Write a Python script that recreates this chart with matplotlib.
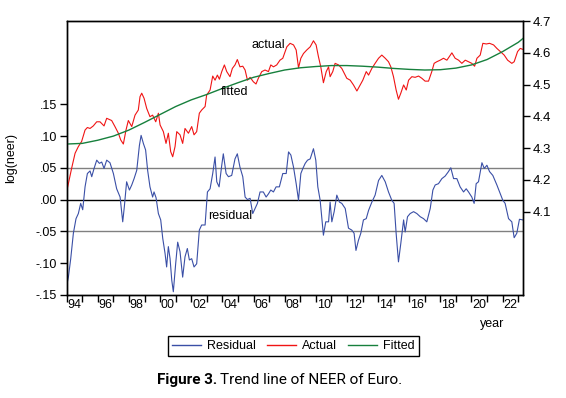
import numpy as np
import matplotlib.pyplot as plt
from matplotlib.lines import Line2D

plt.rcParams['font.family'] = ['Liberation Sans', 'DejaVu Sans']

# Actual log(neer) (right axis)
actual_year = [1994.06, 1994.32, 1994.54, 1994.75, 1994.96, 1995.18, 1995.33, 1995.50, 1995.71, 1995.93,
               1996.14, 1996.40, 1996.57, 1996.89, 1997.10, 1997.32, 1997.47, 1997.64, 1997.81, 1997.96,
               1998.18, 1998.39, 1998.60, 1998.71, 1998.82, 1998.97, 1999.14, 1999.35, 1999.52, 1999.72,
               1999.89, 2000.00, 2000.21, 2000.38, 2000.53, 2000.68, 2000.81, 2000.96, 2001.07, 2001.28,
               2001.45, 2001.60, 2001.82, 2002.03, 2002.18, 2002.35, 2002.52, 2002.67, 2002.89, 2002.99,
               2003.21, 2003.38, 2003.53, 2003.68, 2003.81, 2003.96, 2004.13, 2004.28, 2004.49, 2004.64,
               2004.81, 2004.96, 2005.13, 2005.31, 2005.46, 2005.61, 2005.78, 2005.99, 2006.16, 2006.31,
               2006.53, 2006.74, 2006.96, 2007.11, 2007.28, 2007.49, 2007.70, 2007.88, 2008.14, 2008.35,
               2008.57, 2008.74, 2008.89, 2009.04, 2009.21, 2009.42, 2009.64, 2009.85, 2010.02, 2010.17,
               2010.32, 2010.49, 2010.67, 2010.82, 2010.92, 2011.09, 2011.24, 2011.46, 2011.67, 2011.99,
               2012.21, 2012.42, 2012.64, 2012.85, 2013.02, 2013.24, 2013.39, 2013.60, 2013.81, 2014.03,
               2014.24, 2014.46, 2014.67, 2014.82, 2014.99, 2015.16, 2015.31, 2015.46, 2015.64, 2015.81,
               2015.96, 2016.17, 2016.38, 2016.60, 2016.81, 2017.02, 2017.24, 2017.45, 2017.60, 2017.77,
               2017.99, 2018.20, 2018.42, 2018.74, 2018.95, 2019.17, 2019.38, 2019.60, 2019.81, 2020.02,
               2020.20, 2020.35, 2020.56, 2020.73, 2020.95, 2021.16, 2021.42, 2021.63, 2021.85, 2022.10,
               2022.32, 2022.59, 2022.74, 2022.96, 2023.13, 2023.30]
actual = [4.177, 4.237, 4.284, 4.305, 4.321, 4.357, 4.365, 4.362, 4.370, 4.383,
          4.383, 4.370, 4.394, 4.387, 4.368, 4.347, 4.326, 4.313, 4.357, 4.387,
          4.368, 4.404, 4.420, 4.462, 4.473, 4.457, 4.425, 4.399, 4.404, 4.383,
          4.410, 4.373, 4.352, 4.315, 4.347, 4.289, 4.273, 4.305, 4.352, 4.342,
          4.315, 4.362, 4.347, 4.368, 4.342, 4.352, 4.410, 4.420, 4.431, 4.467,
          4.483, 4.527, 4.514, 4.530, 4.517, 4.541, 4.562, 4.541, 4.525, 4.551,
          4.562, 4.579, 4.556, 4.558, 4.546, 4.514, 4.523, 4.509, 4.502, 4.520,
          4.541, 4.546, 4.541, 4.562, 4.556, 4.562, 4.577, 4.583, 4.619, 4.630,
          4.625, 4.609, 4.553, 4.583, 4.598, 4.609, 4.619, 4.638, 4.625, 4.588,
          4.556, 4.506, 4.541, 4.556, 4.525, 4.541, 4.567, 4.562, 4.551, 4.520,
          4.514, 4.499, 4.480, 4.499, 4.514, 4.541, 4.530, 4.551, 4.567, 4.583,
          4.593, 4.583, 4.572, 4.556, 4.525, 4.483, 4.454, 4.473, 4.499, 4.483,
          4.514, 4.525, 4.523, 4.527, 4.520, 4.511, 4.511, 4.541, 4.567, 4.572,
          4.577, 4.583, 4.577, 4.600, 4.583, 4.577, 4.567, 4.577, 4.572, 4.567,
          4.558, 4.583, 4.593, 4.630, 4.628, 4.630, 4.625, 4.614, 4.604, 4.593,
          4.577, 4.567, 4.572, 4.604, 4.614, 4.611]

# Fitted trend (right axis)
fitted_year = [1994.0, 1995.0, 1996.0, 1997.0, 1998.0, 1999.0, 2000.0, 2001.0, 2002.0, 2003.0,
               2004.0, 2005.0, 2006.0, 2007.0, 2008.0, 2009.0, 2010.0, 2011.0, 2012.0, 2013.0,
               2014.0, 2015.0, 2016.0, 2017.0, 2018.0, 2019.0, 2020.0, 2021.0, 2022.0, 2023.0, 2023.3]
fitted = [4.313, 4.315, 4.325, 4.338, 4.357, 4.381, 4.406, 4.431, 4.452, 4.469,
          4.488, 4.506, 4.523, 4.535, 4.546, 4.553, 4.557, 4.560, 4.560, 4.558,
          4.555, 4.551, 4.548, 4.546, 4.547, 4.552, 4.562, 4.579, 4.604, 4.633, 4.645]

# Residual (left axis)
resid_year = [1994.00, 1994.11, 1994.26, 1994.43, 1994.60, 1994.75, 1994.90, 1995.03, 1995.18, 1995.33,
              1995.50, 1995.61, 1995.76, 1995.93, 1996.10, 1996.25, 1996.40, 1996.57, 1996.78, 1997.00,
              1997.21, 1997.43, 1997.60, 1997.70, 1997.85, 1998.03, 1998.18, 1998.33, 1998.50, 1998.67,
              1998.78, 1998.93, 1999.07, 1999.20, 1999.35, 1999.52, 1999.61, 1999.74, 1999.89, 2000.04,
              2000.17, 2000.32, 2000.42, 2000.53, 2000.64, 2000.75, 2000.85, 2001.00, 2001.13, 2001.28,
              2001.45, 2001.60, 2001.75, 2001.88, 2002.03, 2002.18, 2002.35, 2002.52, 2002.67, 2002.89,
              2003.04, 2003.21, 2003.38, 2003.53, 2003.64, 2003.79, 2003.96, 2004.06, 2004.24, 2004.39,
              2004.60, 2004.81, 2004.96, 2005.13, 2005.31, 2005.46, 2005.61, 2005.78, 2005.95, 2006.10,
              2006.25, 2006.42, 2006.63, 2006.81, 2006.96, 2007.11, 2007.28, 2007.45, 2007.66, 2007.88,
              2008.10, 2008.25, 2008.40, 2008.57, 2008.74, 2008.89, 2009.04, 2009.17, 2009.32, 2009.47,
              2009.64, 2009.85, 2010.00, 2010.13, 2010.28, 2010.49, 2010.64, 2010.82, 2010.92, 2011.03,
              2011.18, 2011.35, 2011.52, 2011.67, 2011.89, 2012.10, 2012.31, 2012.46, 2012.58, 2012.74,
              2012.89, 2013.06, 2013.24, 2013.39, 2013.60, 2013.81, 2014.03, 2014.24, 2014.46, 2014.67,
              2014.88, 2015.03, 2015.16, 2015.31, 2015.46, 2015.64, 2015.74, 2015.89, 2016.06, 2016.28,
              2016.49, 2016.71, 2016.92, 2017.13, 2017.35, 2017.52, 2017.67, 2017.88, 2018.10, 2018.31,
              2018.52, 2018.67, 2018.85, 2019.06, 2019.27, 2019.49, 2019.66, 2019.81, 2020.02, 2020.17,
              2020.30, 2020.45, 2020.67, 2020.82, 2020.99, 2021.16, 2021.37, 2021.63, 2021.85, 2022.01,
              2022.16, 2022.38, 2022.59, 2022.74, 2022.91, 2023.08, 2023.30]
residual = [-0.135, -0.122, -0.093, -0.053, -0.030, -0.022, -0.006, -0.016, 0.020, 0.041,
            0.045, 0.036, 0.049, 0.062, 0.057, 0.059, 0.049, 0.062, 0.058, 0.041,
            0.017, 0.004, -0.035, -0.012, 0.028, 0.015, 0.023, 0.033, 0.046, 0.085,
            0.101, 0.088, 0.078, 0.046, 0.020, 0.004, 0.012, 0.003, -0.022, -0.032,
            -0.061, -0.085, -0.106, -0.074, -0.093, -0.127, -0.145, -0.101, -0.067, -0.082,
            -0.122, -0.090, -0.077, -0.095, -0.093, -0.106, -0.101, -0.048, -0.040, -0.040,
            0.012, 0.017, 0.041, 0.067, 0.028, 0.020, 0.054, 0.072, 0.041, 0.036,
            0.038, 0.064, 0.072, 0.051, 0.036, 0.004, 0.000, 0.002, -0.022, -0.014,
            -0.006, 0.012, 0.012, 0.004, 0.009, 0.015, 0.012, 0.020, 0.020, 0.041,
            0.041, 0.075, 0.070, 0.051, 0.025, -0.001, 0.041, 0.049, 0.057, 0.062,
            0.064, 0.080, 0.062, 0.020, -0.001, -0.056, -0.035, -0.035, -0.004, -0.035,
            -0.019, 0.007, -0.004, -0.006, -0.014, -0.045, -0.048, -0.053, -0.080, -0.064,
            -0.053, -0.032, -0.030, -0.017, -0.004, 0.007, 0.030, 0.038, 0.028, 0.012,
            -0.001, -0.006, -0.053, -0.098, -0.069, -0.032, -0.051, -0.027, -0.022, -0.019,
            -0.022, -0.027, -0.030, -0.035, -0.014, 0.015, 0.023, 0.025, 0.033, 0.037,
            0.044, 0.050, 0.033, 0.033, 0.020, 0.012, 0.017, 0.012, 0.004, -0.006,
            0.025, 0.028, 0.058, 0.049, 0.054, 0.044, 0.038, 0.023, 0.009, -0.001,
            -0.006, -0.030, -0.035, -0.060, -0.053, -0.031, -0.032]

left_ticks = [-0.15, -0.10, -0.05, 0.00, 0.05, 0.10, 0.15]
left_labels = ['-.15', '-.10', '-.05', '.00', '.05', '.10', '.15']
right_ticks = [4.1, 4.2, 4.3, 4.4, 4.5, 4.6, 4.7]
year_labels = ['94', '96', '98', '00', '02', '04', '06', '08', '10', '12', '14', '16', '18', '20', '22']

c_resid = '#3a4fa6'
c_actual = '#f01414'
c_fitted = '#17803d'

fig = plt.figure(figsize=(5.66, 3.98), dpi=100)
ax = fig.add_axes([0.1178, 0.259, 0.806, 0.688])
ax2 = ax.twinx()

# reference lines for the residual
ax.axhline(0.0, color='black', lw=1.0, zorder=1)
ax.axhline(0.05, color='#808080', lw=1.0, zorder=1)
ax.axhline(-0.05, color='#808080', lw=1.0, zorder=1)

ax.plot(resid_year, residual, color=c_resid, lw=0.8, zorder=2)
ax2.plot(actual_year, actual, color=c_actual, lw=0.8)
ax2.plot(fitted_year, fitted, color=c_fitted, lw=1.0)

ax.set_xlim(1994.0, 2023.3)
ax.set_ylim(-0.15, 0.2808)
ax2.set_ylim(3.838, 4.7)

ax.set_yticks(left_ticks)
ax.set_yticklabels(left_labels)
ax2.set_yticks(right_ticks)
ax2.set_yticklabels([f'{t:.1f}' for t in right_ticks])

# year boundaries as ticks, labels centred inside the even years
ax.set_xticks(range(1994, 2024))
ax.set_xticklabels([])
ax.set_xticks([1994.5 + 2 * i for i in range(len(year_labels))], minor=True)
ax.set_xticklabels(year_labels, minor=True)
ax.tick_params(axis='x', which='major', direction='out', length=5, width=1)
ax.tick_params(axis='x', which='minor', length=0, labelsize=9, pad=3)
ax.tick_params(axis='y', direction='out', length=5, width=1, labelsize=9, pad=2)
ax2.tick_params(axis='y', direction='out', length=5, width=1, labelsize=9.5, pad=2)

for a in (ax, ax2):
    for s in a.spines.values():
        s.set_linewidth(1.0)

ax.set_ylabel('log(neer)', fontsize=9, labelpad=6)
ax.yaxis.set_label_coords(-0.108, 0.5)

ax2.text(2006.94, 4.625, 'actual', fontsize=9, ha='center', va='center')
ax2.text(2004.76, 4.477, 'fitted', fontsize=9, ha='center', va='center')
ax.text(2004.5, -0.026, 'residual', fontsize=9, ha='center', va='center')

fig.text(491.7 / 566, 1 - 324 / 398, 'year', fontsize=9, ha='center', va='center')

handles = [Line2D([], [], color=c_resid, lw=1.0),
           Line2D([], [], color=c_actual, lw=1.0),
           Line2D([], [], color=c_fitted, lw=1.0)]
leg = fig.legend(handles, ['Residual', 'Actual', 'Fitted'], ncol=3, fontsize=9,
                 loc='center', bbox_to_anchor=(293.5 / 566, 1 - 346 / 398),
                 frameon=True, fancybox=False, edgecolor='black', framealpha=1,
                 handlelength=2.3, handletextpad=0.5, columnspacing=0.9,
                 borderpad=0.3)
leg.get_frame().set_linewidth(1.0)

cap_font = ['Liberation Sans Narrow', 'Roboto', 'DejaVu Sans']
fig.text(217 / 566, 1 - 380 / 398, 'Figure 3.', fontsize=11, fontweight='bold',
         family=cap_font, ha='right', va='center')
fig.text(220 / 566, 1 - 380 / 398, 'Trend line of NEER of Euro.', fontsize=11,
         family=cap_font, ha='left', va='center')

fig.savefig('out.png', dpi=100)
